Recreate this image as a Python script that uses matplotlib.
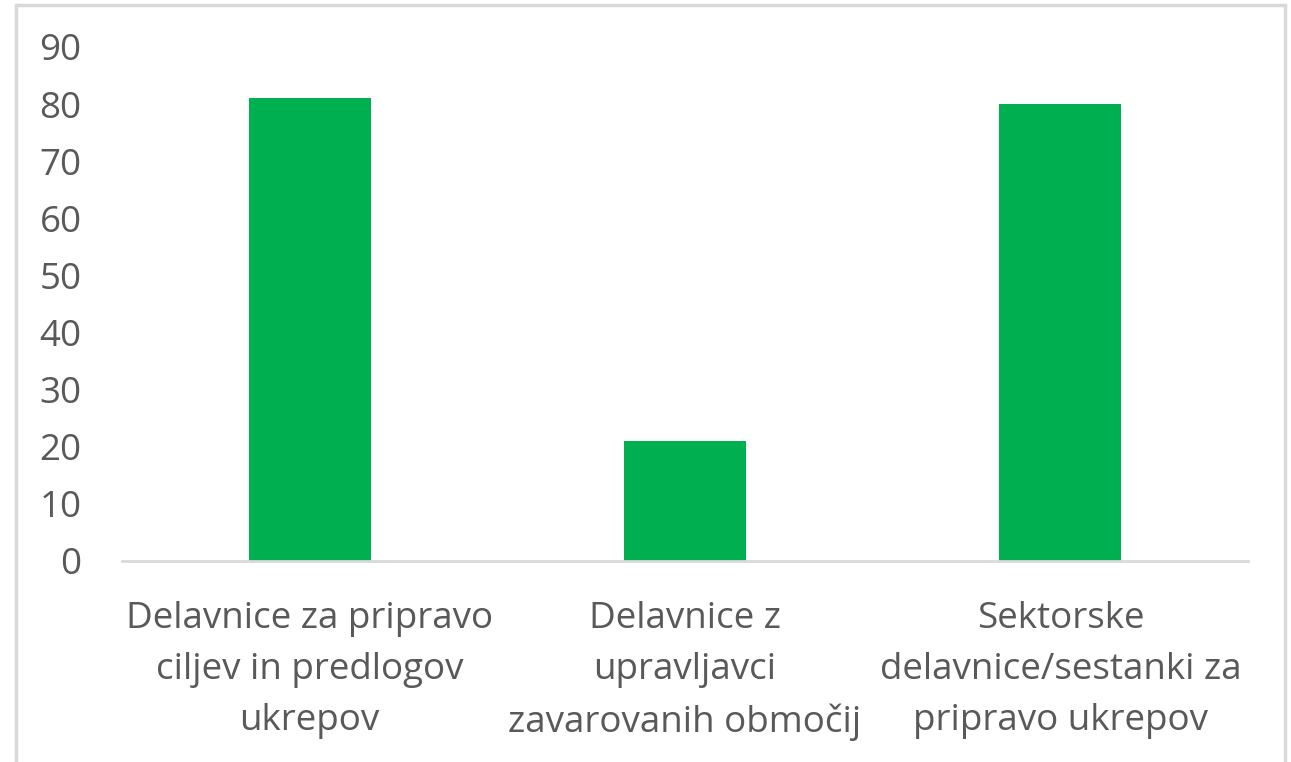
import matplotlib
matplotlib.use("Agg")
import matplotlib.pyplot as plt
from matplotlib.patches import Rectangle

categories = [
    "Delavnice za pripravo\nciljev in predlogov\nukrepov",
    "Delavnice z\nupravljavci\nzavarovanih območij",
    "Sektorske\ndelavnice/sestanki za\npripravo ukrepov",
]
values = [81, 21, 80]
yticks = [0, 10, 20, 30, 40, 50, 60, 70, 80, 90]

W, H = 1291, 762
fig = plt.figure(figsize=(W / 100, H / 100), dpi=100)
fig.patch.set_facecolor("white")
fig.patches.append(Rectangle((16 / W, -0.05), (1285 - 16) / W, 0.05 + (762 - 5) / H,
                             transform=fig.transFigure, fill=False,
                             edgecolor="#d9d9d9", linewidth=2.5))

ax = fig.add_axes([122 / W, 1 - 560.5 / H, (1248 - 122) / W, (560.5 - 47) / H])
x = list(range(len(categories)))
ax.bar(x, values, width=0.325, color="#00b050")
ax.set_xlim(-0.5, len(categories) - 0.5)
ax.set_ylim(0, 90)
ax.set_yticks(yticks)
ax.set_xticks(x)
ax.set_xticklabels(categories, linespacing=1.56)
for s in ["top", "right", "left"]:
    ax.spines[s].set_visible(False)
ax.spines["bottom"].set_color("#d9d9d9")
ax.spines["bottom"].set_linewidth(2)
ax.tick_params(axis="both", length=0, labelsize=26.5, labelcolor="#595959")
ax.tick_params(axis="y", pad=29)
ax.tick_params(axis="x", pad=29)
for t in ax.get_xticklabels() + ax.get_yticklabels():
    t.set_fontfamily("Open Sans")

fig.savefig("out.png", dpi=100)
